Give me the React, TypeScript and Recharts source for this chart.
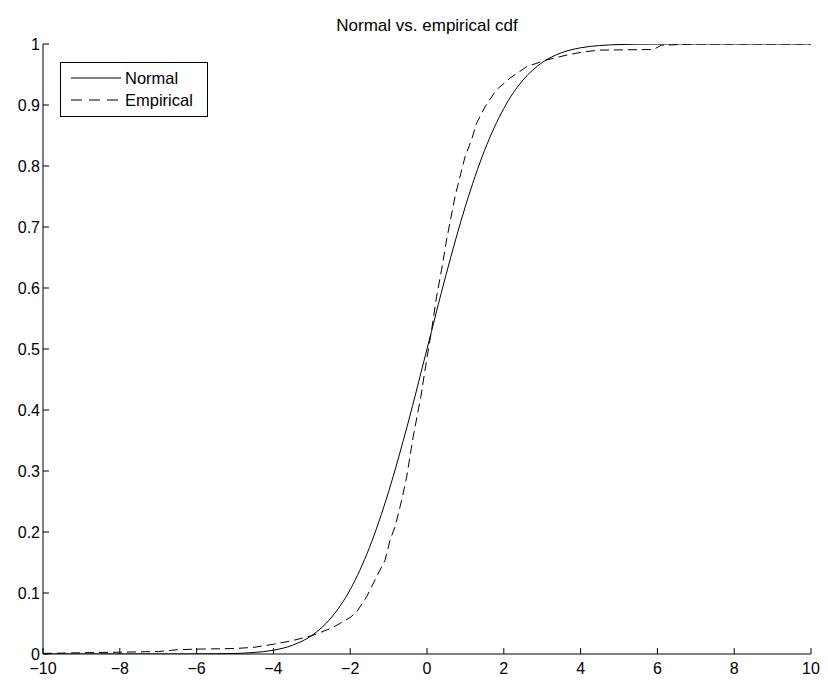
import React from 'react'
import { LineChart, Line, XAxis, YAxis, Legend } from 'recharts'

// fitted normal cdf
const normalX = [
  -10, -9.5, -9, -8.5, -8, -7.5, -7, -6.5, -6, -5.5, -5, -4.5, -4, -3.5, -3, -2.5, -2, -1.5, -1, -0.5,
  0, 0.5, 1, 1.5, 2, 2.5, 3, 3.5, 4, 4.5, 5, 5.5, 6, 6.5, 7, 7.5, 8, 8.5, 9, 9.5, 10,
]
const normalCdf = [
  0, 0, 0, 0, 0, 0, 0, 0, 0.0001, 0.0003, 0.0009, 0.0025, 0.0062, 0.0144, 0.0304, 0.0591, 0.1056, 0.1743, 0.266, 0.3773,
  0.5, 0.6227, 0.734, 0.8257, 0.8944, 0.9409, 0.9696, 0.9856, 0.9938, 0.9975, 0.9991, 0.9997, 0.9999, 1, 1, 1, 1, 1, 1, 1, 1,
]

// empirical cdf
const empiricalX = [
  -10, -9, -8, -7, -6.5, -6, -5, -4.5, -4, -3.5, -3, -2.5, -2.27, -2, -1.83, -1.57, -1.31, -1.09, -0.96, -0.83,
  -0.66, -0.53, -0.36, -0.16, -0.01, 0.12, 0.25, 0.38, 0.51, 0.73, 0.99, 1.16, 1.29, 1.51, 1.81, 2.16, 2.6, 3.12,
  3.65, 4.07, 4.5, 5.9, 6.1, 7, 10,
]
const empiricalCdf = [
  0.001, 0.002, 0.003, 0.004, 0.007, 0.008, 0.009, 0.011, 0.016, 0.022, 0.03, 0.042, 0.05, 0.06, 0.069, 0.094, 0.127,
  0.154, 0.187, 0.209, 0.252, 0.29, 0.356, 0.422, 0.482, 0.531, 0.586, 0.63, 0.679, 0.75, 0.815, 0.843, 0.87, 0.897,
  0.925, 0.944, 0.963, 0.974, 0.982, 0.987, 0.99, 0.991, 0.998, 1, 1,
]

const seriesNames = ['Normal', 'Empirical']
const xTicks = [-10, -8, -6, -4, -2, 0, 2, 4, 6, 8, 10]
const yTicks = [0, 0.1, 0.2, 0.3, 0.4, 0.5, 0.6, 0.7, 0.8, 0.9, 1]

const normalData = normalX.map((x, i) => ({ x, y: normalCdf[i] }))
const empiricalData = empiricalX.map((x, i) => ({ x, y: empiricalCdf[i] }))

const FONT = 'Liberation Sans, Arial, Helvetica, sans-serif'
const TICK_LEN = 6

const fmt = (v: number) => (v < 0 ? '\u2212' + Math.abs(v) : String(v))

function BottomTick({ x, y, payload }: any) {
  return (
    <g>
      <line x1={x} y1={y} x2={x} y2={y - TICK_LEN} stroke="#000" />
      <text x={x} y={y + 20} textAnchor="middle" fontSize={16} fontFamily={FONT} fill="#000">
        {fmt(payload.value)}
      </text>
    </g>
  )
}

function TopTick({ x, y }: any) {
  return <line x1={x} y1={y} x2={x} y2={y + TICK_LEN} stroke="#000" />
}

function LeftTick({ x, y, payload }: any) {
  return (
    <g>
      <line x1={x} y1={y} x2={x + TICK_LEN} y2={y} stroke="#000" />
      <text x={x - 3} y={y + 6} textAnchor="end" fontSize={16} fontFamily={FONT} fill="#000">
        {payload.value}
      </text>
    </g>
  )
}

function RightTick({ x, y }: any) {
  return <line x1={x} y1={y} x2={x - TICK_LEN} y2={y} stroke="#000" />
}

function LegendBox({ payload }: any) {
  const items = [...(payload || [])].sort(
    (a: any, b: any) => seriesNames.indexOf(a.value) - seriesNames.indexOf(b.value)
  )
  return (
    <div
      style={{
        boxSizing: 'border-box',
        width: 148,
        height: 55,
        border: '1px solid #000',
        background: '#fff',
        padding: '4px 0 0 10px',
        fontFamily: FONT,
        fontSize: 16.5,
        lineHeight: '22px',
      }}
    >
      {items.map((entry: any) => (
        <div key={entry.value} style={{ display: 'flex', alignItems: 'center' }}>
          <svg width={50} height={10} style={{ marginRight: 4 }}>
            <line
              x1={0}
              y1={5}
              x2={50}
              y2={5}
              stroke="#000"
              strokeDasharray={entry.value === 'Empirical' ? '11 7' : undefined}
            />
          </svg>
          <span>{entry.value}</span>
        </div>
      ))}
    </div>
  )
}

export default function App() {
  return (
    <div style={{ position: 'relative', width: 828, height: 682, background: '#fff' }}>
      <style>{'body{margin:0;background:#fff}'}</style>
      <div
        style={{
          position: 'absolute',
          left: 43,
          width: 768,
          top: 16,
          textAlign: 'center',
          fontFamily: FONT,
          fontSize: 17,
        }}
      >
        Normal vs. empirical cdf
      </div>
      <LineChart width={828} height={682} margin={{ top: 44, right: 17, bottom: 0, left: 0 }}>
        <XAxis
          dataKey="x"
          type="number"
          domain={[-10, 10]}
          ticks={xTicks}
          height={28}
          tickSize={0}
          tickMargin={0}
          tickLine={false}
          axisLine={{ stroke: '#000' }}
          tick={<BottomTick />}
          allowDataOverflow
        />
        <XAxis
          xAxisId="top"
          dataKey="x"
          type="number"
          orientation="top"
          domain={[-10, 10]}
          ticks={xTicks}
          height={0}
          tickSize={0}
          tickMargin={0}
          tickLine={false}
          axisLine={{ stroke: '#000' }}
          tick={<TopTick />}
          allowDataOverflow
        />
        <YAxis
          type="number"
          domain={[0, 1]}
          ticks={yTicks}
          width={43}
          tickSize={0}
          tickMargin={0}
          tickLine={false}
          axisLine={{ stroke: '#000' }}
          tick={<LeftTick />}
          allowDataOverflow
        />
        <YAxis
          yAxisId="right"
          type="number"
          orientation="right"
          domain={[0, 1]}
          ticks={yTicks}
          width={0}
          tickSize={0}
          tickMargin={0}
          tickLine={false}
          axisLine={{ stroke: '#000' }}
          tick={<RightTick />}
          allowDataOverflow
        />
        <Legend
          layout="horizontal"
          verticalAlign="middle"
          align="center"
          content={<LegendBox />}
          wrapperStyle={{ position: 'absolute', left: 60, top: 62, width: 'auto', height: 'auto' }}
        />
        <Line
          name="Normal"
          data={normalData}
          dataKey="y"
          type="monotone"
          stroke="#000"
          strokeWidth={1}
          dot={false}
          isAnimationActive={false}
        />
        <Line
          name="Empirical"
          data={empiricalData}
          dataKey="y"
          type="linear"
          stroke="#000"
          strokeWidth={1}
          strokeDasharray="9 5"
          dot={false}
          isAnimationActive={false}
        />
      </LineChart>
    </div>
  )
}
